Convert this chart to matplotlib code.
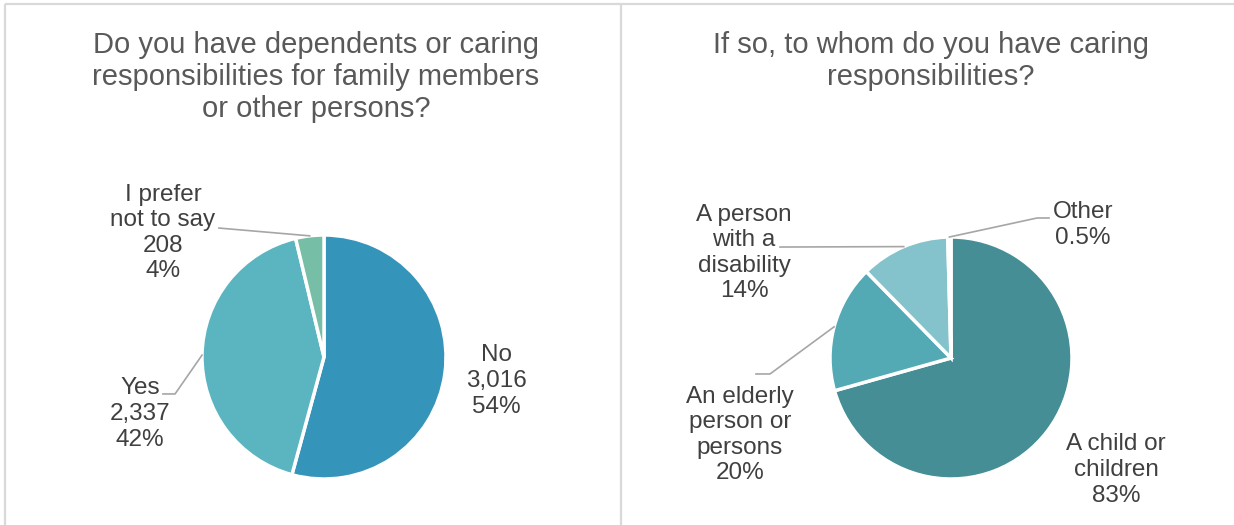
import matplotlib
matplotlib.use("Agg")
import matplotlib.pyplot as plt
import numpy as np

# ---------------- data ----------------
left_title = "Do you have dependents or caring\nresponsibilities for family members\nor other persons?"
left_labels = ["No", "Yes", "I prefer\nnot to say"]
left_counts = [3016, 2337, 208]
left_colors = ["#3594BA", "#5AB5C0", "#76BEA6"]

right_title = "If so, to whom do you have caring\nresponsibilities?"
right_labels = ["A child or\nchildren", "An elderly\nperson or\npersons", "A person\nwith a\ndisability", "Other"]
right_pcts = [83, 20, 14, 0.5]
right_pct_text = ["83%", "20%", "14%", "0.5%"]
right_colors = ["#458E96", "#54AAB4", "#84C3CB", "#B8DDE2"]

W, H = 1234, 525
plt.rcParams['font.family'] = ['Liberation Sans', 'DejaVu Sans']
fig = plt.figure(figsize=(W / 100, H / 100), dpi=100)
fig.patch.set_facecolor("white")

# frame overlay in pixel coordinates
bg = fig.add_axes([0, 0, 1, 1])
bg.set_xlim(0, W)
bg.set_ylim(H, 0)
bg.axis("off")
frame_col = "#D9D9D9"
bg.plot([5, 5], [4, H], color=frame_col, lw=1.6, solid_capstyle="butt")
bg.plot([5, W], [4, 4], color=frame_col, lw=1.6, solid_capstyle="butt")
bg.plot([621, 621], [4, H], color=frame_col, lw=1.6, solid_capstyle="butt")

title_col = "#595959"
label_col = "#404040"
leader_col = "#A6A6A6"

fig.text(316 / W, 1 - 77 / H, left_title, ha="center", va="center", fontsize=21,
         color=title_col, linespacing=1.2)
fig.text(931 / W, 1 - 61 / H, right_title, ha="center", va="center", fontsize=21,
         color=title_col, linespacing=1.2)


def pie_axes(cx, cy, R):
    ax = fig.add_axes([(cx - R) / W, 1 - (cy + R) / H, 2 * R / W, 2 * R / H])
    ax.set_xlim(-1, 1)
    ax.set_ylim(-1, 1)
    ax.axis("off")
    return ax


def edge_point(w):
    ang = np.deg2rad((w.theta1 + w.theta2) / 2)
    return np.cos(ang), np.sin(ang)


# ---------------- left pie ----------------
axL = pie_axes(324, 357, 122)
wl, _ = axL.pie(left_counts, colors=left_colors, startangle=90, counterclock=False,
                radius=1, wedgeprops=dict(edgecolor="white", linewidth=2.5))
axL.set_xlim(-1, 1); axL.set_ylim(-1, 1)
tot = sum(left_counts)
lpos = [(1.41, -0.197), (-1.508, -0.467), (-1.32, 1.016)]
for lab, c, p in zip(left_labels, left_counts, lpos):
    axL.text(p[0], p[1], f"{lab}\n{c:,}\n{round(100 * c / tot)}%", ha="center", va="center",
             fontsize=17.5, color=label_col, linespacing=1.21, clip_on=False)
# leaders
ex, ey = edge_point(wl[1])
axL.plot([-1.320, -1.221, ex], [-0.303, -0.303, ey], color=leader_col, lw=1.2, clip_on=False)
ex, ey = edge_point(wl[2])
axL.plot([-0.861, ex], [1.057, ey], color=leader_col, lw=1.2, clip_on=False)

# ---------------- right pie ----------------
axR = pie_axes(951, 358, 121)
wr, _ = axR.pie(right_pcts, colors=right_colors, startangle=90, counterclock=False,
                normalize=True, radius=1, wedgeprops=dict(edgecolor="white", linewidth=2.5))
axR.set_xlim(-1, 1); axR.set_ylim(-1, 1)
rpos = [(1.364, -0.926), (-1.744, -0.636), (-1.711, 0.868), (1.09, 1.10)]
for lab, t, p in zip(right_labels, right_pct_text, rpos):
    axR.text(p[0], p[1], f"{lab}\n{t}", ha="center", va="center",
             fontsize=17.5, color=label_col, linespacing=1.21, clip_on=False)
ex, ey = edge_point(wr[1])
axR.plot([ex, -1.496, -1.612], [ey, -0.132, -0.132], color=leader_col, lw=1.2, clip_on=False)
ex, ey = edge_point(wr[2])
axR.plot([-1.413, ex], [0.917, ey], color=leader_col, lw=1.2, clip_on=False)
ex, ey = edge_point(wr[3])
axR.plot([0.81, 0.711, ex], [1.157, 1.157, ey], color=leader_col, lw=1.2, clip_on=False)

fig.savefig("out.png", dpi=100, facecolor="white")
